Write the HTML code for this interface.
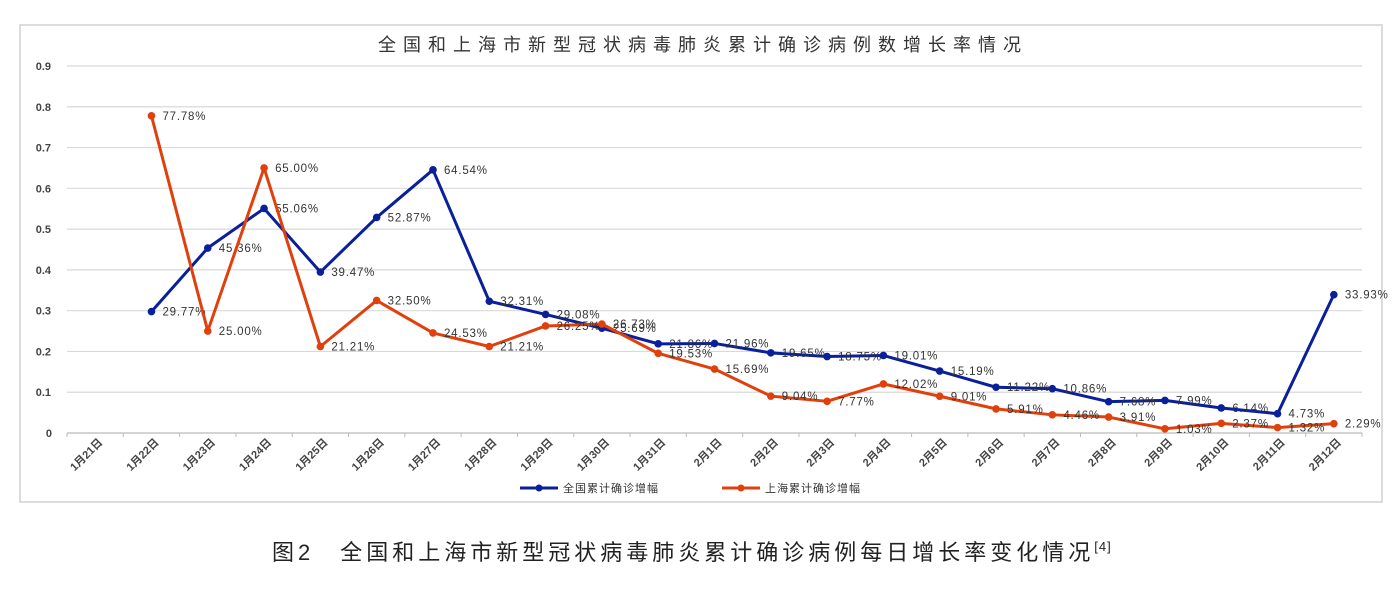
<!DOCTYPE html>
<html><head><meta charset="utf-8">
<style>
body{margin:0;background:#fff;width:1400px;height:588px;overflow:hidden;font-family:"Liberation Sans","Noto Sans CJK SC",sans-serif;}
</style></head>
<body>
<svg id="chart" width="1400" height="588" xmlns="http://www.w3.org/2000/svg" font-family="Liberation Sans, Noto Sans CJK SC, sans-serif">
<rect x="20" y="25" width="1362" height="477" fill="#fff" stroke="#d0d0d0" stroke-width="1.5"/>
<text x="703" y="51" text-anchor="middle" font-size="18" fill="#333" letter-spacing="7">全国和上海市新型冠状病毒肺炎累计确诊病例数增长率情况</text>
<g id="grid"></g><g id="xlabels"></g><g id="series"></g>
<g>
<line x1="520" y1="488" x2="558" y2="488" stroke="#0a1f9a" stroke-width="3"/><circle cx="539" cy="488" r="3.5" fill="#0a1f9a"/>
<text x="563" y="492" font-size="11" fill="#333" letter-spacing="1">全国累计确诊增幅</text>
<line x1="722" y1="488" x2="760" y2="488" stroke="#e0400c" stroke-width="3"/><circle cx="741" cy="488" r="3.5" fill="#e0400c"/>
<text x="765" y="492" font-size="11" fill="#333" letter-spacing="1">上海累计确诊增幅</text>
</g>
<text x="272" y="560" font-size="22" fill="#222" letter-spacing="4">图2　全国和上海市新型冠状病毒肺炎累计确诊病例每日增长率变化情况<tspan font-size="13" dy="-9" letter-spacing="1">[4]</tspan></text>
</svg>
<script>
const categories=["1月21日","1月22日","1月23日","1月24日","1月25日","1月26日","1月27日","1月28日","1月29日","1月30日","1月31日","2月1日","2月2日","2月3日","2月4日","2月5日","2月6日","2月7日","2月8日","2月9日","2月10日","2月11日","2月12日"];
const nationalValues=[null,0.2977,0.4536,0.5506,0.3947,0.5287,0.6454,0.3231,0.2908,0.2569,0.2186,0.2196,0.1965,0.1875,0.1901,0.1519,0.1122,0.1086,0.0768,0.0799,0.0614,0.0473,0.3393];
const nationalLabels=["","29.77%","45.36%","55.06%","39.47%","52.87%","64.54%","32.31%","29.08%","25.69%","21.86%","21.96%","19.65%","18.75%","19.01%","15.19%","11.22%","10.86%","7.68%","7.99%","6.14%","4.73%","33.93%"];
const shanghaiValues=[null,0.7778,0.25,0.65,0.2121,0.325,0.2453,0.2121,0.2625,0.2673,0.1953,0.1569,0.0904,0.0777,0.1202,0.0901,0.0591,0.0446,0.0391,0.0103,0.0237,0.0132,0.0229];
const shanghaiLabels=["","77.78%","25.00%","65.00%","21.21%","32.50%","24.53%","21.21%","26.25%","26.73%","19.53%","15.69%","9.04%","7.77%","12.02%","9.01%","5.91%","4.46%","3.91%","1.03%","2.37%","1.32%","2.29%"];
const yTicks=[0,0.1,0.2,0.3,0.4,0.5,0.6,0.7,0.8,0.9];
const NS="http://www.w3.org/2000/svg";
const L=67,R=1362,Y0=433,Y9=66;
const step=(R-L)/categories.length;
const xs=i=>L+step*(i+0.5);
const ys=v=>Y0-(v/0.9)*(Y0-Y9);
function mk(t,a,p){const e=document.createElementNS(NS,t);for(const k in a)e.setAttribute(k,a[k]);p.appendChild(e);return e;}
const grid=document.getElementById('grid');
yTicks.forEach(v=>{
  const ln=mk('line',{x1:L,x2:R,y1:ys(v),y2:ys(v),stroke:v===0?'#bbb':'#d9d9d9','stroke-width':1.2},grid);
  
  
  const t=mk('text',{x:v===0?52:51,y:ys(v)+4,'text-anchor':'end','font-size':11,'font-weight':'bold',fill:'#444'},grid);
  t.textContent=v===0?'0':String(v);
  
  
});
const xl=document.getElementById('xlabels');
for(let i=0;i<=categories.length;i++){
  const tk=mk('line',{x1:L+step*i,x2:L+step*i,y1:Y0,y2:Y0+4,stroke:'#bbb'},xl);
  
  
}
categories.forEach((c,i)=>{
  const x=xs(i)+8,y=Y0+10;
  const t=mk('text',{x:x,y:y,'text-anchor':'end','font-size':11,'font-weight':'bold',fill:'#444',transform:`rotate(-45 ${x} ${y})`},xl);
  t.textContent=c;
  
  
});
const sg=document.getElementById('series');
function drawSeries(vals,labels,color,name){
  const g=mk('g',{},sg);
  
  
  const pts=[];vals.forEach((v,i)=>{if(v!==null)pts.push(xs(i)+','+ys(v));});
  const pl=mk('polyline',{points:pts.join(' '),fill:'none',stroke:color,'stroke-width':3,'stroke-linejoin':'round'},g);
  
  
  vals.forEach((v,i)=>{
    if(v===null)return;
    const c=mk('circle',{cx:xs(i),cy:ys(v),r:3.8,fill:color},g);
    
    
    const t=mk('text',{x:xs(i)+11,y:ys(v)+4,'font-size':11.5,fill:'#333','letter-spacing':'0.8'},g);
    t.textContent=labels[i];
    
    
  });
}
drawSeries(nationalValues,nationalLabels,'#0a1f9a','national-series');
drawSeries(shanghaiValues,shanghaiLabels,'#e0400c','shanghai-series');
</script>
</body></html>
